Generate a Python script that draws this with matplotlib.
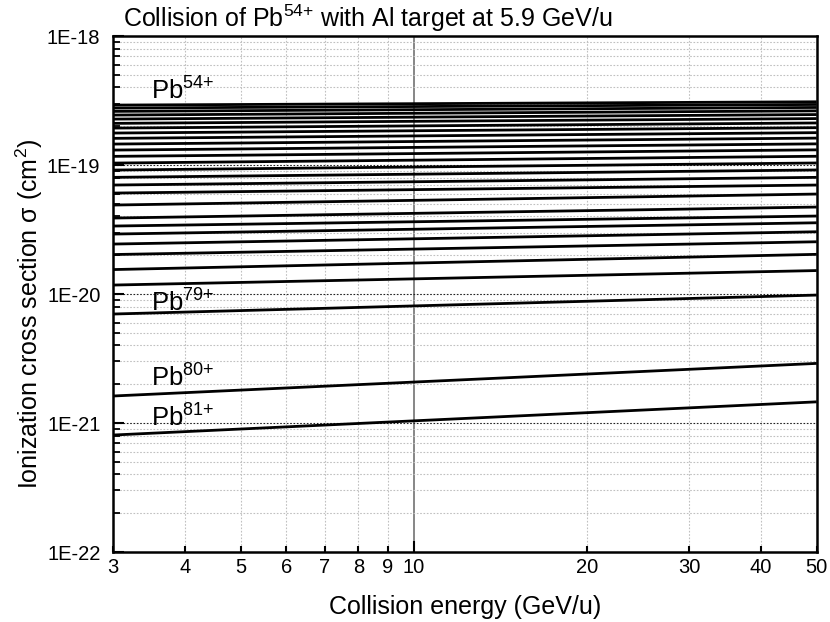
import math
import matplotlib
matplotlib.use("Agg")
import matplotlib.pyplot as plt
from matplotlib.ticker import FixedLocator, FuncFormatter, NullFormatter

plt.rcParams['font.family'] = ['Liberation Sans', 'DejaVu Sans']
plt.rcParams['mathtext.fontset'] = 'custom'
plt.rcParams['mathtext.rm'] = 'Liberation Sans'
plt.rcParams['mathtext.it'] = 'Liberation Sans'

# energies (GeV/u) where the cross sections were read
energy = [3, 50]

# charge states drawn (Pb54+ ... Pb81+)
charges = list(range(54, 82))

# cross section (cm^2) at 3 GeV/u and at 50 GeV/u, one pair per charge state
sigma_3 = [2.917e-19, 2.766e-19, 2.608e-19, 2.441e-19, 2.272e-19, 2.105e-19, 1.935e-19,
           1.771e-19, 1.611e-19, 1.455e-19, 1.307e-19, 1.168e-19, 1.036e-19, 9.147e-20,
           8.03e-20, 7.0e-20, 6.066e-20, 4.898e-20, 3.883e-20, 3.367e-20, 2.918e-20,
           2.441e-20, 2.024e-20, 1.548e-20, 1.174e-20, 7.0e-21, 1.62e-21, 8.07e-22]
sigma_50 = [3.094e-19, 2.949e-19, 2.796e-19, 2.632e-19, 2.463e-19, 2.293e-19, 2.120e-19,
            1.949e-19, 1.783e-19, 1.618e-19, 1.460e-19, 1.312e-19, 1.170e-19, 1.038e-19,
            9.163e-20, 8.03e-20, 7.0e-20, 5.96e-20, 4.726e-20, 4.025e-20, 3.569e-20,
            3.04e-20, 2.543e-20, 2.032e-20, 1.521e-20, 9.82e-21, 2.90e-21, 1.46e-21]

# charge-state labels: (charge, baseline cross section)
labelled = {54: 3.19e-19, 79: 7.3e-21, 80: 1.91e-21, 81: 9.35e-22}

x_ticks = [3, 4, 5, 6, 7, 8, 9, 10, 20, 30, 40, 50]
y_ticks = [1e-22, 1e-21, 1e-20, 1e-19, 1e-18]

fig = plt.figure(figsize=(8.3, 6.22), dpi=100)
ax = fig.add_axes([0.136, 0.1125, 0.848, 0.8295])
ax.set_xscale('log')
ax.set_yscale('log')
ax.set_xlim(3, 50)
ax.set_ylim(1e-22, 1e-18)

# grid
for xv in x_ticks:
    if xv == 10:
        ax.axvline(xv, color='#666666', lw=1.1, zorder=1)
    else:
        ax.axvline(xv, color='#c0c0c0', lw=0.8, ls=(0, (1.5, 1.5)), zorder=1)
for dec in [-22, -21, -20, -19]:
    for m in range(2, 10):
        ax.axhline(m * 10.0 ** dec, color='#c0c0c0', lw=0.8, ls=(0, (1.5, 1.5)), zorder=1)
for yv in [1e-21, 1e-20, 1e-19]:
    ax.axhline(yv, color='#222222', lw=0.8, ls=(0, (1.5, 1.5)), zorder=1)

for q, a, b in zip(charges, sigma_3, sigma_50):
    ax.plot(energy, [a, b], color='black', lw=2.0, zorder=3, solid_capstyle='butt')

for q, yv in labelled.items():
    ax.text(3.49, yv, 'Pb$^{%d{+}}$' % q, fontsize=18.5, ha='left', va='baseline', zorder=4)

ax.xaxis.set_major_locator(FixedLocator(x_ticks))
ax.xaxis.set_major_formatter(FuncFormatter(lambda v, p: '%d' % round(v)))
ax.xaxis.set_minor_locator(FixedLocator([]))
ax.yaxis.set_major_locator(FixedLocator(y_ticks))
ax.yaxis.set_minor_locator(FixedLocator([m * 10.0 ** d for d in range(-22, -18) for m in range(2, 10)]))
ax.yaxis.set_minor_formatter(NullFormatter())
ax.yaxis.set_major_formatter(FuncFormatter(lambda v, p: '1E%d' % round(math.log10(v))))

ax.tick_params(axis='y', which='major', direction='in', length=8, width=1.5, labelsize=14.5, pad=9)
ax.tick_params(axis='y', which='minor', direction='in', length=5, width=1.3)
ax.tick_params(axis='x', which='major', direction='in', length=4, width=1.5, labelsize=14.5, pad=4)
ax.tick_params(top=False, right=False)
for t, xv in zip(ax.xaxis.get_major_ticks(), x_ticks):
    if xv == 10:
        t.tick1line.set_markersize(8)
for s in ax.spines.values():
    s.set_linewidth(1.8)

fig.text(465 / 830, 1 - 614 / 622, 'Collision energy (GeV/u)', fontsize=18,
         ha='center', va='baseline')
fig.text(38 / 830, 1 - 314 / 622, 'Ionization cross section σ (cm$^2$)', fontsize=18,
         rotation=90, rotation_mode='anchor', ha='center', va='baseline')
fig.text(123 / 830, 1 - 27 / 622, 'Collision of Pb$^{54{+}}$ with Al target at 5.9 GeV/u',
         fontsize=18, ha='left', va='baseline')

fig.savefig('out.png', dpi=100)
